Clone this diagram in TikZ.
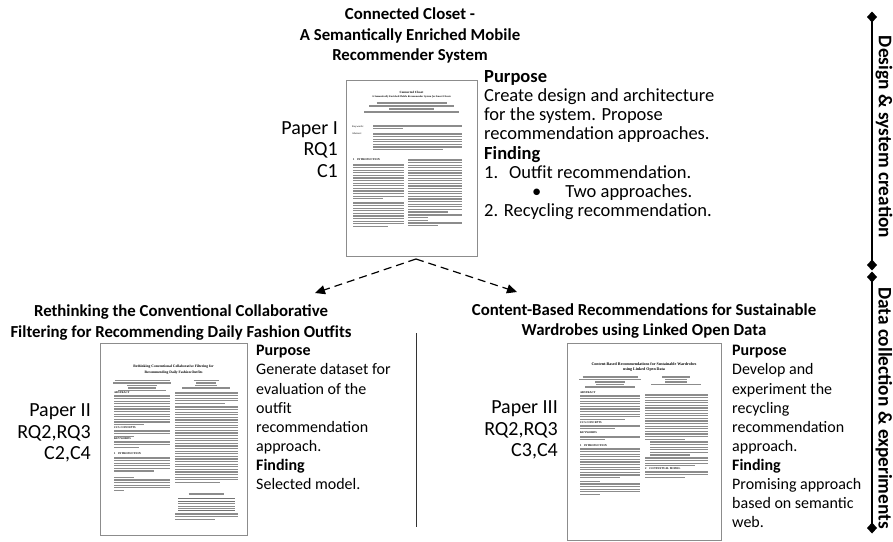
\documentclass[tikz,border=0pt]{standalone}
\usepackage{fontspec}
\setmainfont{Carlito}
\newfontfamily\thumbfont{Liberation Serif}
\usetikzlibrary{arrows.meta}

% leading of the miniature text lines on the page thumbnails
\def\tblead{2.6}
% block of grey text lines: left, right, top, number of lines, length of last line
\newcommand\tblock[5]{%
  \pgfmathtruncatemacro\tbn{#4-1}%
  \foreach \k in {0,...,\tbn}{%
    \pgfmathsetmacro\tbw{ifthenelse(\k==\tbn,#5,#2-#1)}%
    \draw[txtline] (#1,{#3+\k*\tblead}) -- ++(\tbw,0);
  }%
}
% one centred grey line: centre x, length, y
\newcommand\ctrline[3]{\draw[txtline] ({#1-#2/2},#3) -- ++(#2,0);}

\begin{document}
\begin{tikzpicture}[x=1pt,y=-1pt,
  ttl/.style={font=\bfseries\fontsize{16.8}{20.7}\selectfont, align=center, inner sep=0pt},
  plabel/.style={font=\fontsize{20}{21.5}\selectfont, align=right, anchor=east, inner sep=0pt},
  desc/.style={font=\fontsize{16}{19.1}\selectfont, align=left, anchor=north west, inner sep=0pt},
  phase/.style={font=\bfseries\fontsize{19.3}{21}\selectfont, rotate=-90, inner sep=0pt},
  pagebox/.style={draw=black!45, line width=1pt, fill=white, inner sep=0pt, anchor=north west},
  txtline/.style={draw=black!45, line width=1.05pt},
  thumbtitle/.style={font=\thumbfont\bfseries\fontsize{3.6}{4}\selectfont, inner sep=0pt},
  thumbhead/.style={font=\thumbfont\bfseries\fontsize{2.8}{3}\selectfont, inner sep=0pt, anchor=west},
  thumblbl/.style={font=\thumbfont\fontsize{2.6}{3}\selectfont, inner sep=0pt, anchor=west},
  flow/.style={dashed, dash pattern=on 8pt off 5pt, line width=1.2pt, -{Triangle[length=10pt,width=9pt]}},
  span/.style={line width=1.5pt, {Diamond[length=11pt,width=10pt]}-{Diamond[length=11pt,width=10pt]}},
]
\useasboundingbox (0,0) rectangle (893,541);

% ---------------- Paper I ----------------
\node[ttl] (t1) at (410,35.5) {Connected Closet -\\A Semantically Enriched Mobile\\Recommender System};
\node[plabel] (l1) at (338,149.5) {Paper I\\RQ1\\C1};

\node[pagebox, minimum width=131pt, minimum height=176pt] (p1) at (346,80) {};
\node[thumbtitle, font=\thumbfont\bfseries\fontsize{3.2}{4}\selectfont] (p1t) at (411.5,92.5) {Connected Closet};
\node[thumbtitle, font=\thumbfont\bfseries\itshape\fontsize{2.6}{3}\selectfont] (p1s) at (411.5,97) {A Semantically Enriched Mobile Recommender System for Smart Closets};
\ctrline{411.5}{70}{103}
\ctrline{411.5}{85}{106}
\ctrline{411.5}{45}{109}
\ctrline{411.5}{95}{112}
\node[thumblbl] (p1k) at (352,127) {Keywords:};
\tblock{373}{462}{126}{2}{30}
\node[thumblbl] (p1a) at (352,134) {Abstract:};
\tblock{373}{462}{134}{7}{70}
\node[thumbhead] (p1h) at (353,160) {1\quad INTRODUCTION};
\tblock{353}{404}{165}{14}{30}
\tblock{353}{404}{203}{10}{35}
\tblock{408}{462}{160}{21}{40}
\tblock{408}{462}{215}{2}{20}
\draw[txtline, line width=0.5pt] (408,220) -- ++(20,0);
\tblock{408}{462}{223}{2}{30}

\node[desc, font=\fontsize{18.5}{19.1}\selectfont] (d1) at (484,70.5) {\textbf{Purpose}\\
Create design and architecture\\
for the system. Propose\\
recommendation approaches.\\
\textbf{Finding}\\
\makebox[25pt][l]{1.}Outfit recommendation.\\
\hspace*{48pt}\textbullet\hspace{24pt}Two approaches.\\
2. Recycling recommendation.};

% split into the two follow-up papers
\coordinate (split) at (416,259);
\coordinate (tipL) at (315,293);
\coordinate (tipR) at (517,292);
\draw[flow] (split) -- (tipL);
\draw[flow] (split) -- (tipR);

% ---------------- Paper II ----------------
\node[ttl] (t2) at (181,322.5) {Rethinking the Conventional Collaborative\\Filtering for Recommending Daily Fashion Outfits};
\node[plabel] (l2) at (91,433) {Paper II\\RQ2,RQ3\\C2,C4};

\node[pagebox, minimum width=147pt, minimum height=192pt] (p2) at (100,343) {};
\node[thumbtitle] (p2t) at (173.5,367) {Rethinking Conventional Collaborative Filtering for};
\node[thumbtitle] (p2s) at (173.5,373) {Recommending Daily Fashion Outfits};
\ctrline{142}{55}{380.5}
\ctrline{142}{58}{383}
\ctrline{142}{30}{385.5}
\ctrline{142}{28}{388}
\ctrline{142}{48}{390.5}
\ctrline{206}{25}{380.5}
\ctrline{206}{20}{383}
\ctrline{206}{22}{385.5}
\ctrline{206}{48}{388}
\node[thumbhead] (p2h1) at (114,393) {ABSTRACT};
\tblock{114}{170}{396}{12}{30}
\node[thumbhead] (p2h2) at (114,428) {CCS CONCEPTS};
\tblock{114}{170}{431}{3}{20}
\node[thumbhead] (p2h3) at (114,439) {KEYWORDS};
\tblock{114}{170}{442}{3}{25}
\node[thumbhead] (p2h4) at (114,454) {1\quad INTRODUCTION};
\tblock{114}{170}{458}{6}{40}
\draw[txtline, line width=0.5pt] (114,477) -- ++(20,0);
\tblock{114}{170}{480}{5}{10}
\tblock{175}{238}{393}{5}{50}
\tblock{175}{238}{407}{30}{45}
\ctrline{206}{35}{494}
\draw[black!55, line width=0.5pt] (178,498) -- (235,498) (178,501) -- (235,501) (178,510) -- (235,510);
\tblock{178}{235}{503.5}{3}{57}
\tblock{175}{238}{514}{3}{40}

\node[desc] (d2) at (256,345.3) {\textbf{Purpose}\\
Generate dataset for\\
evaluation of the\\
outfit\\
recommendation\\
approach.\\
\textbf{Finding}\\
Selected model.};

% separator between the two data-collection papers
\coordinate (sepT) at (416,333);
\coordinate (sepB) at (416,527);
\draw[black!80, line width=0.9pt] (sepT) -- (sepB);

% ---------------- Paper III ----------------
\node[ttl] (t3) at (644,321) {Content-Based Recommendations for Sustainable\\Wardrobes using Linked Open Data};
\node[plabel] (l3) at (558,430) {Paper III\\RQ2,RQ3\\C3,C4};

\node[pagebox, minimum width=154pt, minimum height=197pt] (p3) at (567,343) {};
\node[thumbtitle, font=\thumbfont\bfseries\fontsize{4}{4.5}\selectfont] (p3t) at (644,364) {Content-Based Recommendations for Sustainable Wardrobes};
\node[thumbtitle, font=\thumbfont\bfseries\fontsize{4}{4.5}\selectfont] (p3s) at (644,369.5) {using Linked Open Data};
\ctrline{610}{55}{377}
\ctrline{610}{62}{379.5}
\ctrline{610}{30}{382}
\ctrline{610}{28}{384.5}
\ctrline{610}{50}{387}
\ctrline{676}{28}{377}
\ctrline{676}{22}{379.5}
\ctrline{676}{22}{382}
\ctrline{676}{50}{384.5}
\node[thumbhead] (p3h1) at (580,393) {ABSTRACT};
\tblock{580}{640}{396}{10}{45}
\node[thumbhead] (p3h2) at (580,423) {CCS CONCEPTS};
\tblock{580}{640}{426}{2}{35}
\node[thumbhead] (p3h3) at (580,433) {KEYWORDS};
\tblock{580}{640}{437}{2}{25}
\node[thumbhead] (p3h4) at (580,446) {1\quad INTRODUCTION};
\tblock{580}{640}{449}{12}{40}
\draw[txtline, line width=0.5pt] (580,481) -- ++(20,0);
\tblock{580}{640}{484}{5}{20}
\tblock{645}{708}{395}{18}{40}
\tblock{650}{708}{442}{6}{40}
\tblock{645}{708}{458}{4}{50}
\node[thumbhead] (p3h5) at (645,469) {2\quad CONTEXTUAL MODEL};
\tblock{645}{708}{472}{3}{40}

\node[desc] (d3) at (732,345.3) {\textbf{Purpose}\\
Develop and\\
experiment the\\
recycling\\
recommendation\\
approach.\\
\textbf{Finding}\\
Promising approach\\
based on semantic\\
web.};

% ---------------- research phases ----------------
\coordinate (ph1a) at (872,11.5);
\coordinate (ph1b) at (872,270.5);
\coordinate (ph2a) at (872,271.5);
\coordinate (ph2b) at (872,533.5);
\draw[span] (ph1a) -- (ph1b);
\draw[span] (ph2a) -- (ph2b);
\node[phase] (ph1) at (884,137) {Design \& system creation};
\node[phase] (ph2) at (884,408) {Data collection \& experiments};
\end{tikzpicture}
\end{document}
